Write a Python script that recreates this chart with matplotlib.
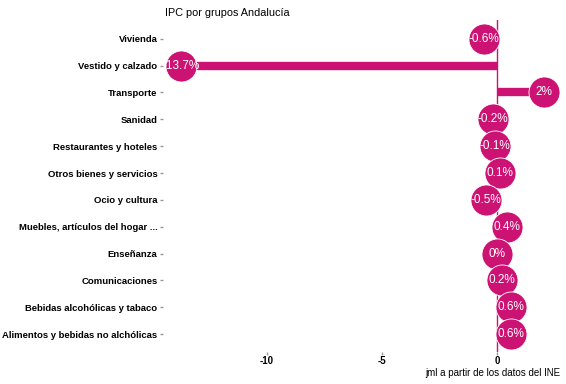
import matplotlib.pyplot as plt

grupos = ["Vivienda", "Vestido y calzado", "Transporte", "Sanidad",
          "Restaurantes y hoteles", "Otros bienes y servicios", "Ocio y cultura",
          "Muebles, artículos del hogar ...", "Enseñanza", "Comunicaciones",
          "Bebidas alcohólicas y tabaco", "Alimentos y bebidas no alchólicas"]
variacion = [-0.6, -13.7, 2, -0.2, -0.1, 0.1, -0.5, 0.4, 0, 0.2, 0.6, 0.6]
etiquetas = ["-0.6%", "-13.7%", "2%", "-0.2%", "-0.1%", "0.1%", "-0.5%",
             "0.4%", "0%", "0.2%", "0.6%", "0.6%"]

color = "#cc1373"
plt.rcParams["font.family"] = ["Liberation Sans", "DejaVu Sans"]

fig = plt.figure(figsize=(5.66, 3.84), dpi=100)
ax = fig.add_axes([0.288, 0.083, 0.705, 0.865])

pos = list(range(len(grupos)))

ax.axvline(0, color=color, lw=1, zorder=1)
ax.hlines(pos, 0, variacion, color=color, lw=6, zorder=2)
ax.scatter(variacion, pos, s=500, color=color, edgecolors="white",
           linewidths=0.6, zorder=3)
for x, y, t in zip(variacion, pos, etiquetas):
    ax.text(x, y, t, color="white", fontsize=8.5, ha="center", va="center", zorder=4)

ax.set_yticks(pos)
ax.set_yticklabels(grupos, fontsize=6.8, fontweight="bold")
ax.set_xticks([-10, -5, 0])
ax.set_xticklabels(["-10", "-5", "0"], fontsize=7, fontweight="bold")
ax.set_xlim(-14.5, 2.8)
ax.set_ylim(11.67, -0.7)
ax.tick_params(length=2, width=1, color="#999999", pad=2)
ax.tick_params(axis="x", pad=0.5)
for s in ax.spines.values():
    s.set_visible(False)

fig.text(0.291, 0.965, "IPC por grupos Andalucía", fontsize=7.8, ha="left", va="center")
fig.text(0.99, 0.028, "jml a partir de los datos del INE", fontsize=7,
         ha="right", va="center")

plt.savefig("out.png", dpi=100)
